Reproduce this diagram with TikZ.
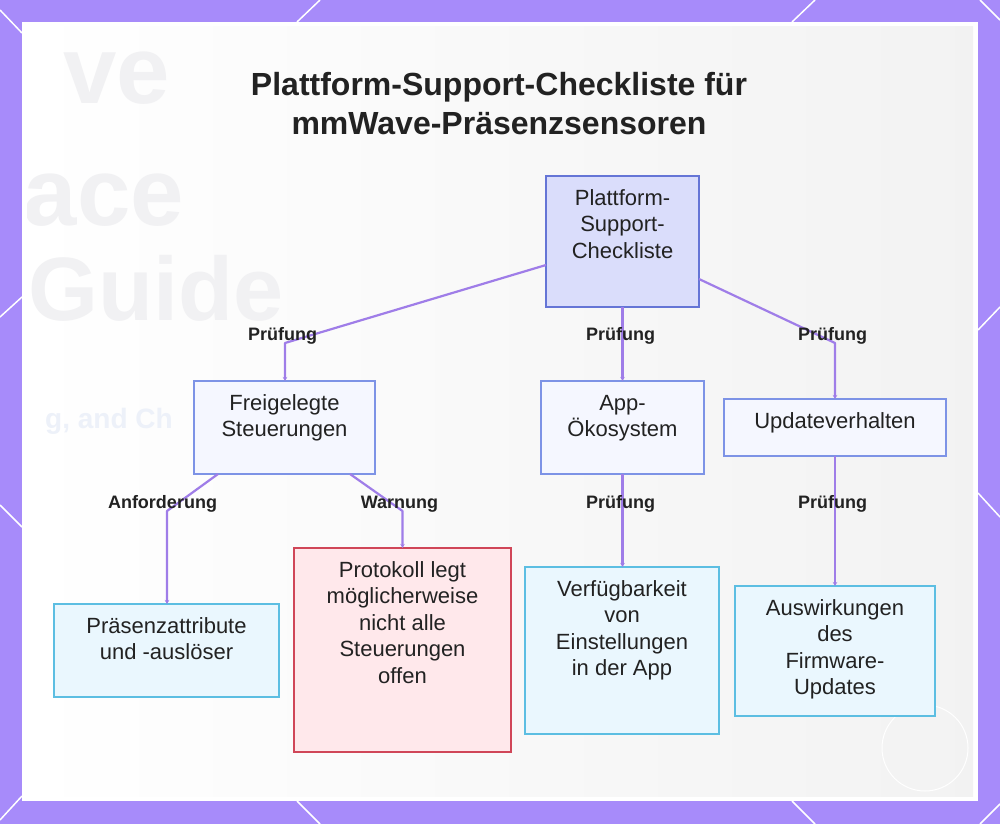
\documentclass[tikz,border=0pt]{standalone}
\usepackage{fontspec}
\setmainfont{Liberation Sans}
\usetikzlibrary{arrows.meta}
\definecolor{bgpurple}{HTML}{A78BFA}
\definecolor{conncol}{HTML}{9F7DE8}
\definecolor{textdark}{HTML}{222222}
\definecolor{rootfill}{HTML}{DADDFB}
\definecolor{rootdraw}{HTML}{6575D6}
\definecolor{midfill}{HTML}{F5F7FF}
\definecolor{middraw}{HTML}{7D93E6}
\definecolor{leaffill}{HTML}{EAF7FE}
\definecolor{leafdraw}{HTML}{5CBEE2}
\definecolor{warnfill}{HTML}{FFE8EB}
\definecolor{warndraw}{HTML}{D04658}
\definecolor{ghost}{HTML}{F1F1F3}
\definecolor{ghostblue}{HTML}{EDF1F9}
\newcommand{\bxt}[3]{\parbox[c][#2pt][t]{#1pt}{\centering\fontsize{22}{26.5}\selectfont\rule{0pt}{29pt}#3\par}}
\tikzset{
  boxbase/.style={line width=1.6pt, inner sep=0pt, outer sep=0pt, text=textdark},
  rootbox/.style={boxbase, draw=rootdraw, fill=rootfill},
  midbox/.style={boxbase, draw=middraw, fill=midfill},
  leafbox/.style={boxbase, draw=leafdraw, fill=leaffill},
  warnbox/.style={boxbase, draw=warndraw, fill=warnfill},
  conn/.style={draw=conncol, line width=2.2pt, line join=round, -{Stealth[length=4pt,width=4.5pt]}},
  lbl/.style={font=\bfseries\fontsize{18}{20}\selectfont, text=textdark, inner sep=0pt, anchor=base},
  hexline/.style={draw=white, line width=1.5pt},
  ghosttext/.style={font=\bfseries\fontsize{96}{96}\selectfont, text=ghost, inner sep=0pt}
}
\begin{document}
\begin{tikzpicture}[x=1pt,y=-1pt]
\useasboundingbox (0,0) rectangle (1000,824);
% background
\fill[bgpurple] (0,0) rectangle (1000,824);
\draw[hexline] (0,10) -- (22,33);
\draw[hexline] (297,22) -- (320,0);
\draw[hexline] (792,22) -- (815,0);
\draw[hexline] (980,0) -- (1000,20);
\draw[hexline] (22,297) -- (0,317);
\draw[hexline] (0,505) -- (22,527);
\draw[hexline] (978,330) -- (1000,307);
\draw[hexline] (978,493) -- (1000,517);
\draw[hexline] (0,820) -- (22,796);
\draw[hexline] (297,801) -- (320,824);
\draw[hexline] (792,801) -- (815,824);
\draw[hexline] (980,824) -- (1000,804);
% panel
\fill[white] (22,22) rectangle (978,801);
\shade[left color=white, right color=black!5] (27,27) rectangle (973,796);
\begin{scope}
\clip (27,27) rectangle (973,796);
\node[ghosttext, anchor=base east] (g1) at (170,103) {ve};
\node[ghosttext, anchor=base east] (g2) at (184,225) {ace};
\node[ghosttext, font=\bfseries\fontsize{90}{90}\selectfont, anchor=base west] (g3) at (28,320) {Guide};
\node[font=\bfseries\fontsize{28}{28}\selectfont, text=ghostblue, inner sep=0pt, anchor=base west] (g4) at (45,428) {g, and Ch};
\draw[white, line width=1pt] (925,748) circle (43);
\end{scope}
% title
\node[font=\bfseries\fontsize{32}{39}\selectfont, text=textdark, align=center, inner sep=0pt, anchor=base] (title) at (499,134) {Plattform-Support-Checkliste für\\mmWave-Präsenzsensoren};
% boxes
\node[rootbox] (root) at (622.5,241.5) {\bxt{153}{131}{Plattform-\\Support-\\Checkliste}};
\node[midbox] (freig) at (284.5,427.5) {\bxt{181}{93}{Freigelegte\\Steuerungen}};
\node[midbox] (app) at (622.5,427.5) {\bxt{163}{93}{App-\\Ökosystem}};
\node[midbox] (upd) at (835,427.5) {\bxt{222}{57}{Updateverhalten}};
\node[leafbox] (praes) at (166.5,650.5) {\bxt{225}{93}{Präsenzattribute\\und -auslöser}};
\node[warnbox] (prot) at (402.5,650) {\bxt{217}{204}{Protokoll legt\\möglicherweise\\nicht alle\\Steuerungen\\offen}};
\node[leafbox] (verf) at (622,650.5) {\bxt{194}{167}{Verfügbarkeit\\von\\Einstellungen\\in der App}};
\node[leafbox] (ausw) at (835,651) {\bxt{200}{130}{Auswirkungen\\des\\Firmware-\\Updates}};
% connectors
\draw[conn] ([yshift=-23.5pt]root.west) -- (285,343) -- (285,343 |- freig.north);
\draw[conn] (root.south) -- (app.north);
\draw[conn] ([yshift=-37.5pt]root.east) -- (835,343) -- (upd.north);
\draw[conn] ([xshift=-66.5pt]freig.south) -- (167,511) -- (167,511 |- praes.north);
\draw[conn] ([xshift=65.5pt]freig.south) -- (402.5,511) -- (prot.north);
\draw[conn] (app.south) -- (app.south |- verf.north);
\draw[conn] (upd.south) -- (ausw.north);
% labels
\node[lbl] (l1) at (282.5,340) {Prüfung};
\node[lbl] (l2) at (620.5,340) {Prüfung};
\node[lbl] (l3) at (832.5,340) {Prüfung};
\node[lbl] (l4) at (162.5,508) {Anforderung};
\node[lbl] (l5) at (399.5,508) {Warnung};
\node[lbl] (l6) at (620.5,508) {Prüfung};
\node[lbl] (l7) at (832.5,508) {Prüfung};
\end{tikzpicture}
\end{document}
